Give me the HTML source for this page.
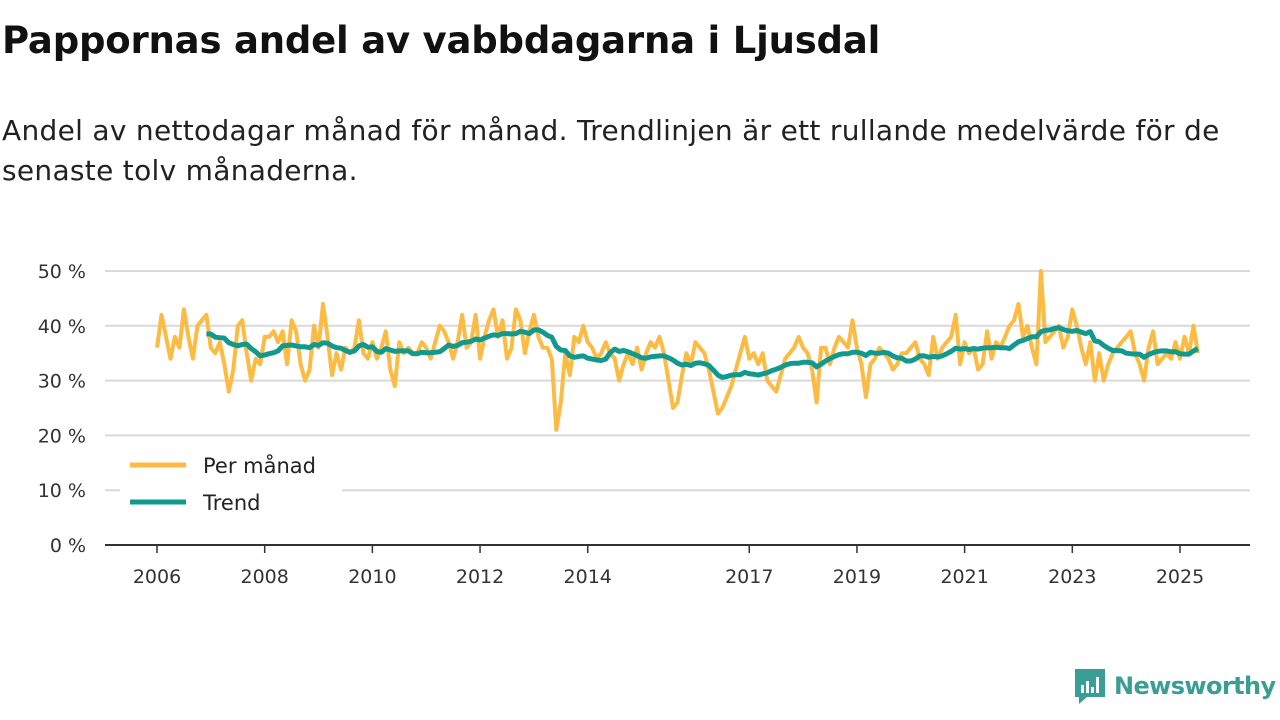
<!DOCTYPE html>
<html><head><meta charset="utf-8">
<style>
body{margin:0;width:1280px;height:720px;background:#fff;font-family:"DejaVu Sans","Liberation Sans",sans-serif;overflow:hidden;position:relative;color:#111}
h1{position:absolute;left:2px;top:19px;margin:0;font-size:37px;font-weight:bold;letter-spacing:-0.2px}
.sub{position:absolute;left:2px;top:111px;margin:0;font-size:28px;line-height:40px;color:#222;width:1275px;white-space:nowrap;letter-spacing:0.3px}
svg{position:absolute;left:0;top:0}
.logo{position:absolute;left:1073px;top:667px;display:flex;align-items:center}
.logo span{font-size:24px;font-weight:bold;color:#3a9e96;margin-left:7px;letter-spacing:-0.6px}
</style></head><body>
<h1>Pappornas andel av vabbdagarna i Ljusdal</h1>
<p class="sub">Andel av nettodagar månad för månad. Trendlinjen är ett rullande medelvärde för de<br>senaste tolv månaderna.</p>
<svg id="chart" width="1280" height="720"></svg>
<div class="logo">
<svg width="34" height="38" viewBox="0 0 34 38" style="position:static"><path d="M2 2h30v28H14l-8 7v-7H2z" fill="#3a9e96"/><rect x="8" y="18" width="3" height="8" fill="#fff"/><rect x="13" y="14" width="3" height="12" fill="#fff"/><rect x="18" y="20" width="3" height="6" fill="#fff"/><rect x="23" y="10" width="3" height="16" fill="#fff"/></svg>
<span>Newsworthy</span></div>
<script>
const startYear = 2006;
const monthly = [
36,42,38,34,38,36,43,38,34,40,41,42,
36,35,37,33,28,32,40,41,35,30,34,33,
38,38,39,37,39,33,41,39,33,30,32,40,
36,44,38,31,35,32,36,35,36,41,35,34,
37,34,36,39,32,29,37,35,36,35,35,37,
36,34,37,40,39,37,34,37,42,36,37,42,
34,38,41,43,38,41,34,36,43,41,35,39,
42,38,36,36,34,21,26,35,31,38,37,40,
37,36,34,35,37,35,34,30,33,35,33,36,
32,35,37,36,38,35,30,25,26,31,35,33,
37,36,35,32,28,24,25,27,29,32,35,38,
34,35,33,35,30,29,28,31,34,35,36,38,
36,35,32,26,36,36,33,36,38,37,36,41,
36,33,27,33,34,36,35,34,32,33,35,35,
36,37,34,33,31,38,34,36,37,38,42,33,
37,35,36,32,33,39,34,37,36,38,40,41,
44,38,40,36,33,50,37,38,39,40,36,38,
43,40,36,33,37,30,35,30,33,35,36,37,
38,39,35,33,30,36,39,33,34,35,34,37,
34,38,35,40,35];
const yTicks = [0,10,20,30,40,50];
const xTicks = [2006,2008,2010,2012,2014,2017,2019,2021,2023,2025];
const legendLabels = ["Per månad","Trend"];

const NS="http://www.w3.org/2000/svg";
const svg=document.getElementById('chart');
const FONT='DejaVu Sans, Liberation Sans, sans-serif';
const x = t => 157 + (t - 2006) * (1180-157)/19;
const y = v => 545 - v * 5.48;
function mk(tag, attrs){const e=document.createElementNS(NS,tag);for(const k in attrs)e.setAttribute(k,attrs[k]);svg.appendChild(e);return e;}
yTicks.forEach(v=>{
  const g=mk('line',{x1:105,x2:1250,y1:y(v),y2:y(v),stroke:v===0?'#333':'#d9d9d9','stroke-width':2});
  
  
  const t=mk('text',{x:86,y:y(v)+7,'text-anchor':'end','font-size':19,fill:'#333','font-family':FONT});
  t.textContent=v+' %';
  
  
});
xTicks.forEach(yr=>{
  const l=mk('line',{x1:x(yr),x2:x(yr),y1:545,y2:553,stroke:'#333','stroke-width':1.5});
  
  
  const t=mk('text',{x:x(yr),y:583,'text-anchor':'middle','font-size':19,fill:'#333','font-family':FONT});
  t.textContent=yr;
  
  
});
const tOf = i => startYear + i/12;
let d=monthly.map((v,i)=>(i?'L':'M')+x(tOf(i)).toFixed(1)+' '+y(v).toFixed(1)).join('');
const p1=mk('path',{d,fill:'none',stroke:'#fdbb44','stroke-width':4,'stroke-linejoin':'round'});


let td='';
for(let i=11;i<monthly.length;i++){
  let s=0;for(let j=i-11;j<=i;j++)s+=monthly[j];
  td+=(i===11?'M':'L')+x(tOf(i)).toFixed(1)+' '+y(s/12).toFixed(1);
}
const p2=mk('path',{d:td,fill:'none',stroke:'#12998e','stroke-width':5,'stroke-linejoin':'round'});


const bg=mk('rect',{x:120,y:447,width:222,height:78,fill:'#fff'});


[['#fdbb44',465],['#12998e',502]].forEach((c,i)=>{
  const l=mk('line',{x1:130,x2:186,y1:c[1],y2:c[1],stroke:c[0],'stroke-width':5});
  
  
  const t=mk('text',{x:203,y:c[1]+8,'font-size':21,fill:'#222','font-family':FONT});
  t.textContent=legendLabels[i];
  
  
});
</script>
</body></html>
